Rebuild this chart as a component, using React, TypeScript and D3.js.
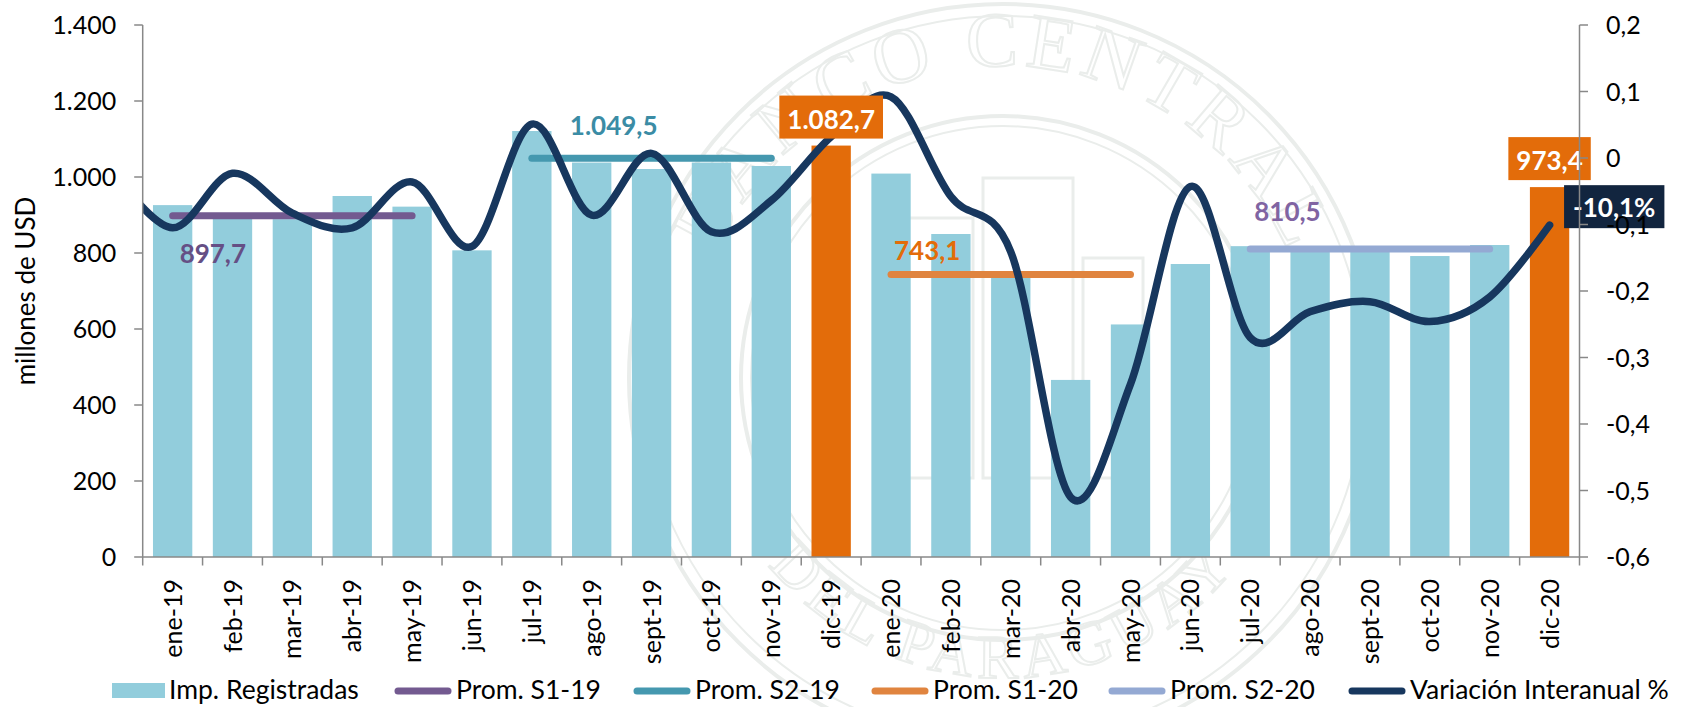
import React from 'react';
import * as d3 from 'd3';

// ---- data ----
const meses = [
  "ene-19", "feb-19", "mar-19", "abr-19", "may-19", "jun-19",
  "jul-19", "ago-19", "sept-19", "oct-19", "nov-19", "dic-19",
  "ene-20", "feb-20", "mar-20", "abr-20", "may-20", "jun-20",
  "jul-20", "ago-20", "sept-20", "oct-20", "nov-20", "dic-20",
];
// Imp. Registradas, millones de USD
const importaciones = [
  926, 892, 889, 950, 922, 807,
  1121, 1038, 1021, 1038, 1029, 1082.7,
  1009, 850, 745, 466, 612, 771,
  818, 812, 810, 792, 821, 973.4,
];
const mesesDestacados = ["dic-19", "dic-20"];
const etiquetasDestacadas = ["1.082,7", "973,4"];

// Variación Interanual (fraction)
const variacion = [
  -0.105, -0.023, -0.083, -0.105, -0.036, -0.133,
  0.051, -0.086, 0.007, -0.111, -0.064, 0.032,
  0.092, -0.058, -0.141, -0.51, -0.34, -0.043,
  -0.27, -0.231, -0.216, -0.246, -0.209, -0.101,
];
const variacionDic18 = -0.02; // previous month, falls left of the plot and gets clipped
const etiquetaVariacion = "-10,1%";

const promNombres = ["Prom. S1-19", "Prom. S2-19", "Prom. S1-20", "Prom. S2-20"];
const promValores = [897.7, 1049.5, 743.1, 810.5];
const promDesde = ["ene-19", "jul-19", "ene-20", "jul-20"];
const promHasta = ["may-19", "nov-19", "may-20", "nov-20"];
const promEtiquetas = ["897,7", "1.049,5", "743,1", "810,5"];

const leftTicks = [0, 200, 400, 600, 800, 1000, 1200, 1400];
const rightTicks = [-0.6, -0.5, -0.4, -0.3, -0.2, -0.1, 0, 0.1, 0.2];

// ---- styles / layout ----
const W = 1681;
const H = 707;
const plotLeft = 142.7;
const plotRight = 1579.5;
const plotTop = 25;
const plotBottom = 557;
const FONT = "Lato, 'Open Sans', sans-serif";
const barColor = "#92cddc";
const orange = "#e36c0a";
const navy = "#17375e";
const navyBox = "#12253f";
const promColors = ["#735a90", "#4598af", "#e0843f", "#94a9d3"];
const promLabelColors = ["#654f85", "#3b8ca5", "#e36c0a", "#8064a2"];
const promLabelOffsets = [[7, 47], [38, -23], [3, -15], [4, -28]];

const locale = d3.formatLocale({ decimal: ",", thousands: ".", grouping: [3], currency: ["", ""], minus: "-" });
const fmtLeft = locale.format(",d");
const fmtRight = (v: number) => (Math.abs(v) < 1e-9 ? "0" : locale.format(".1f")(v));

let ctx: CanvasRenderingContext2D | null = null;
const measure = (text: string, font: string) => {
  if (!ctx) ctx = document.createElement('canvas').getContext('2d');
  if (!ctx) return text.length * 14;
  ctx.font = font;
  return ctx.measureText(text).width;
};

// faint seal in the background
const Watermark: React.FC = () => {
  const cx = 1003, cy = 378;
  const rTop = 312, rBot = 300;
  const c = "#eaedeb";
  return (
    <g>
      <defs>
        <path id="wm-top" d={`M ${cx - rTop} ${cy} A ${rTop} ${rTop} 0 0 1 ${cx + rTop} ${cy}`} />
        <path id="wm-bot" d={`M ${cx - rBot} ${cy} A ${rBot} ${rBot} 0 0 0 ${cx + rBot} ${cy}`} />
      </defs>
      <circle cx={cx} cy={cy} r={374} fill="none" stroke={c} strokeWidth={4} />
      <circle cx={cx} cy={cy} r={362} fill="none" stroke={c} strokeWidth={2} />
      <circle cx={cx} cy={cy} r={262} fill="none" stroke={c} strokeWidth={4} />
      <circle cx={cx} cy={cy} r={252} fill="none" stroke={c} strokeWidth={2} />
      <text fontFamily="'Liberation Serif', 'DejaVu Serif', serif" fontSize={78} fill="none" stroke={c} strokeWidth={2} letterSpacing={6}>
        <textPath href="#wm-top" startOffset="50%" textAnchor="middle">BANCO CENTRAL</textPath>
      </text>
      <text fontFamily="'Liberation Serif', 'DejaVu Serif', serif" fontSize={62} fill="none" stroke={c} strokeWidth={2} letterSpacing={6}>
        <textPath href="#wm-bot" startOffset="50%" textAnchor="middle">DEL PARAGUAY</textPath>
      </text>
      <g fill="none" stroke={c} strokeWidth={3}>
        <rect x={cx - 100} y={cy - 160} width={70} height={260} />
        <rect x={cx - 20} y={cy - 200} width={90} height={300} />
        <rect x={cx + 80} y={cy - 120} width={60} height={220} />
      </g>
    </g>
  );
};

const App: React.FC = () => {
  const x = d3.scaleBand<string>().domain(meses).range([plotLeft, plotRight]).paddingInner(0.343).paddingOuter(0.1715);
  const yL = d3.scaleLinear().domain([0, 1400]).range([plotBottom, plotTop]);
  const yR = d3.scaleLinear().domain([-0.6, 0.2]).range([plotBottom, plotTop]);
  const cx = (m: string) => (x(m) as number) + x.bandwidth() / 2;
  const step = x.step();

  const varPoints: [number, number][] = [
    [cx(meses[0]) - step, yR(variacionDic18)],
    ...variacion.map((v, i) => [cx(meses[i]), yR(v)] as [number, number]),
  ];
  const varLine = d3.line().curve(d3.curveCatmullRom.alpha(0))(varPoints) as string;

  const boundaries = d3.range(meses.length + 1).map(i => plotLeft + i * step);
  const lastPt = varPoints[varPoints.length - 1];

  const boxFont = `bold 26px ${FONT}`;
  const varW = measure(etiquetaVariacion, boxFont) + 18;

  const legendX = [112, 394, 633, 871, 1108, 1348];
  const legendItems = [
    { name: "Imp. Registradas", color: barColor, rect: true },
    ...promNombres.map((n, i) => ({ name: n, color: promColors[i], rect: false })),
    { name: "Variación Interanual %", color: navy, rect: false },
  ];

  return (
    <svg width={W} height={H} style={{ position: 'absolute', left: 0, top: 0, background: '#fff' }} fontFamily={FONT}>
      <defs>
        <clipPath id="plot-clip">
          <rect x={plotLeft} y={0} width={plotRight - plotLeft + 20} height={H} />
        </clipPath>
      </defs>
      <Watermark />

      {/* bars */}
      {meses.map((m, i) => (
        <rect key={m} x={x(m)} y={yL(importaciones[i])} width={x.bandwidth()}
          height={plotBottom - yL(importaciones[i])}
          fill={mesesDestacados.includes(m) ? orange : barColor} />
      ))}

      {/* semester averages */}
      {promNombres.map((n, i) => (
        <line key={n} x1={cx(promDesde[i])} x2={cx(promHasta[i])} y1={yL(promValores[i])} y2={yL(promValores[i])}
          stroke={promColors[i]} strokeWidth={7} strokeLinecap="round" />
      ))}
      {promNombres.map((n, i) => (
        <text key={n + "-lbl"} x={cx(promDesde[i]) + promLabelOffsets[i][0]} y={yL(promValores[i]) + promLabelOffsets[i][1]}
          fill={promLabelColors[i]} fontSize={26} fontWeight="bold">{promEtiquetas[i]}</text>
      ))}

      {/* variación interanual */}
      <path d={varLine} fill="none" stroke={navy} strokeWidth={7.5} strokeLinejoin="round" strokeLinecap="round" clipPath="url(#plot-clip)" />

      {/* highlighted bar labels */}
      {mesesDestacados.map((m, k) => {
        const i = meses.indexOf(m);
        const w = measure(etiquetasDestacadas[k], boxFont) + 16;
        const bottom = yL(importaciones[i]) - 7;
        return (
          <g key={m + "-box"}>
            <rect x={cx(m) - w / 2} y={bottom - 43} width={w} height={43} fill={orange} />
            <text x={cx(m)} y={bottom - 10} textAnchor="middle" fill="#fff" fontSize={26} fontWeight="bold">{etiquetasDestacadas[k]}</text>
          </g>
        );
      })}
      <g>
        <rect x={lastPt[0] + 14.5} y={lastPt[1] - 40} width={varW} height={43} fill={navyBox} />
        <text x={lastPt[0] + 14.5 + 9} y={lastPt[1] - 8} fill="#fff" fontSize={26} fontWeight="bold">{etiquetaVariacion}</text>
      </g>

      {/* axes */}
      <g stroke="#888" strokeWidth={1.5}>
        <line x1={plotLeft} x2={plotLeft} y1={plotTop} y2={plotBottom} />
        <line x1={plotRight} x2={plotRight} y1={plotTop} y2={plotBottom} />
        <line x1={plotLeft} x2={plotRight} y1={plotBottom} y2={plotBottom} />
        {leftTicks.map(t => <line key={"lt" + t} x1={plotLeft - 8.5} x2={plotLeft} y1={yL(t)} y2={yL(t)} />)}
        {rightTicks.map(t => <line key={"rt" + t} x1={plotRight} x2={plotRight + 8.5} y1={yR(t)} y2={yR(t)} />)}
        {boundaries.map((b, i) => <line key={"xt" + i} x1={b} x2={b} y1={plotBottom} y2={plotBottom + 8.5} />)}
      </g>
      {leftTicks.map(t => (
        <text key={"ll" + t} x={plotLeft - 26.5} y={yL(t)} dy="0.36em" textAnchor="end" fontSize={25} fill="#000">{fmtLeft(t)}</text>
      ))}
      {rightTicks.map(t => (
        <text key={"rl" + t} x={plotRight + 26.5} y={yR(t)} dy="0.36em" textAnchor="start" fontSize={25} fill="#000">{fmtRight(t)}</text>
      ))}
      {meses.map(m => (
        <text key={"xl" + m} transform={`translate(${cx(m)}, ${plotBottom + 22}) rotate(-90)`} textAnchor="end" dy="0.36em"
          fontSize={25} fill="#000">{m}</text>
      ))}
      <text transform={`translate(35, ${(plotTop + plotBottom) / 2}) rotate(-90)`} textAnchor="middle" fontSize={26} fill="#000">millones de USD</text>

      {/* legend */}
      {legendItems.map((it, i) => {
        const lx = legendX[i];
        const sw = it.rect ? 53 : 58;
        return (
          <g key={it.name}>
            {it.rect
              ? <rect x={lx} y={683} width={sw} height={15} fill={it.color} />
              : <line x1={lx + 4} x2={lx + sw - 4} y1={691} y2={691} stroke={it.color} strokeWidth={7} strokeLinecap="round" />}
            <text x={lx + sw + 4} y={699} fontSize={26.5} fill="#000">{it.name}</text>
          </g>
        );
      })}
    </svg>
  );
};

export default App;
